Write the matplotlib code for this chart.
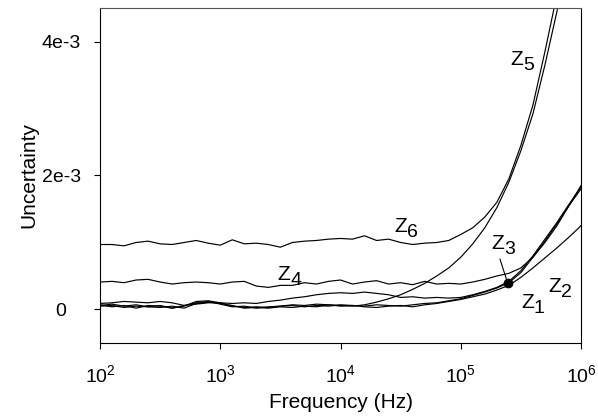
import numpy as np
import matplotlib
matplotlib.use("Agg")
import matplotlib.pyplot as plt

plt.rcParams['font.family'] = ['Liberation Sans', 'DejaVu Sans']
plt.rcParams['mathtext.fontset'] = 'custom'
plt.rcParams['mathtext.rm'] = 'Liberation Sans'
plt.rcParams['mathtext.it'] = 'Liberation Sans'

# frequency grid: 10 points per decade, 1e2 .. 1e6
freq = np.logspace(2, 6, 41)

# uncertainty values, in units of 1e-3
z1 = [0.05, 0.06, 0.03, 0.05, 0.04, 0.03, 0.05, 0.02, 0.09, 0.11,
      0.09, 0.06, 0.02, 0.03, 0.02, 0.04, 0.03, 0.05, 0.04, 0.07,
      0.05, 0.06, 0.04, 0.03, 0.05, 0.06, 0.04, 0.07, 0.09, 0.12,
      0.15, 0.19, 0.23, 0.29, 0.36, 0.48, 0.62, 0.77, 0.92, 1.08, 1.25]
z2 = [0.07, 0.04, 0.06, 0.02, 0.06, 0.05, 0.02, 0.06, 0.10, 0.12,
      0.08, 0.04, 0.05, 0.02, 0.04, 0.05, 0.06, 0.04, 0.06, 0.05,
      0.07, 0.06, 0.05, 0.07, 0.06, 0.05, 0.07, 0.09, 0.10, 0.13,
      0.16, 0.21, 0.26, 0.32, 0.40, 0.55, 0.78, 1.02, 1.28, 1.55, 1.80]
z3 = [0.09, 0.10, 0.12, 0.11, 0.10, 0.12, 0.10, 0.06, 0.08, 0.10,
      0.10, 0.09, 0.10, 0.09, 0.12, 0.14, 0.17, 0.19, 0.22, 0.24,
      0.25, 0.24, 0.26, 0.24, 0.22, 0.18, 0.19, 0.17, 0.18, 0.17,
      0.18, 0.22, 0.27, 0.33, 0.42, 0.58, 0.80, 1.05, 1.30, 1.57, 1.83]
z4 = [0.41, 0.42, 0.40, 0.44, 0.45, 0.41, 0.38, 0.40, 0.41, 0.40,
      0.38, 0.41, 0.42, 0.35, 0.33, 0.36, 0.36, 0.40, 0.38, 0.42,
      0.44, 0.38, 0.41, 0.43, 0.38, 0.40, 0.37, 0.42, 0.38, 0.39,
      0.38, 0.41, 0.45, 0.50, 0.54, 0.62, 0.78, 1.00, 1.25, 1.55, 1.85]
z5 = [0.06, 0.08, 0.05, 0.07, 0.04, 0.06, 0.02, 0.05, 0.12, 0.13,
      0.10, 0.05, 0.03, 0.04, 0.03, 0.05, 0.07, 0.06, 0.08, 0.07,
      0.06, 0.05, 0.07, 0.11, 0.16, 0.22, 0.30, 0.39, 0.50, 0.62,
      0.78, 0.98, 1.22, 1.52, 1.90, 2.37, 2.92, 3.65, 4.45, 5.50, 6.70]
z6 = [0.97, 0.97, 0.95, 1.00, 1.02, 0.98, 0.97, 1.00, 1.03, 0.99,
      0.96, 1.04, 0.98, 0.99, 0.97, 0.93, 1.00, 1.02, 1.03, 1.05,
      1.06, 1.05, 1.10, 1.03, 1.05, 1.00, 0.97, 0.99, 1.00, 1.03,
      1.12, 1.22, 1.38, 1.60, 1.95, 2.45, 3.05, 3.85, 4.70, 5.80, 7.00]

series = [z1, z2, z3, z4, z5, z6]

# label anchors (freq, value in 1e-3) at the baseline-left of "Z"
labels = [("1", 3.17e5, 0.02), ("2", 5.32e5, 0.26), ("3", 1.79e5, 0.90),
          ("4", 2.97e3, 0.44), ("5", 2.57e5, 3.65), ("6", 2.79e4, 1.15)]

# Z3 marker
dot_f, dot_v = 2.45e5, 0.39

fig = plt.figure(figsize=(5.98, 4.19), dpi=100)
ax = fig.add_axes([0.1672, 0.1814, 0.8044, 0.7995])

for s in series:
    ax.plot(freq, np.array(s) * 1e-3, color='black', lw=0.85)

ax.plot([dot_f], [dot_v * 1e-3], 'o', color='black', ms=6)
ax.plot([2.12e5, 2.4e5], [0.75e-3, 0.45e-3], color='black', lw=0.8)

for sub, fx, fy in labels:
    ax.annotate("Z", (fx, fy * 1e-3), fontsize=15, ha='left', va='baseline')
    ax.annotate(sub, (fx, fy * 1e-3), xytext=(9.3, -3.6), textcoords='offset points',
                fontsize=14, ha='left', va='baseline')

ax.set_xscale('log')
ax.set_xlim(1e2, 1e6)
ax.set_ylim(-0.5e-3, 4.5e-3)
ax.set_xticks([1e2, 1e3, 1e4, 1e5, 1e6])
ax.set_xticklabels([r'$10^{2}$', r'$10^{3}$', r'$10^{4}$', r'$10^{5}$', r'$10^{6}$'])
ax.minorticks_off()
ax.set_yticks([0, 2e-3, 4e-3])
ax.set_yticklabels(['0', '2e-3', '4e-3'])
ax.tick_params(direction='out', length=4, width=0.8, labelsize=14)
ax.tick_params(axis='x', pad=11)
ax.tick_params(axis='y', pad=24)
for lbl in ax.get_yticklabels():
    lbl.set_ha('center')
for sp in ax.spines.values():
    sp.set_linewidth(0.8)
ax.spines['top'].set_color('#555555')

ax.set_xlabel('Frequency (Hz)', fontsize=15, labelpad=5)
ax.set_ylabel('Uncertainty', fontsize=15, labelpad=2)

fig.savefig('out.png', dpi=100)
